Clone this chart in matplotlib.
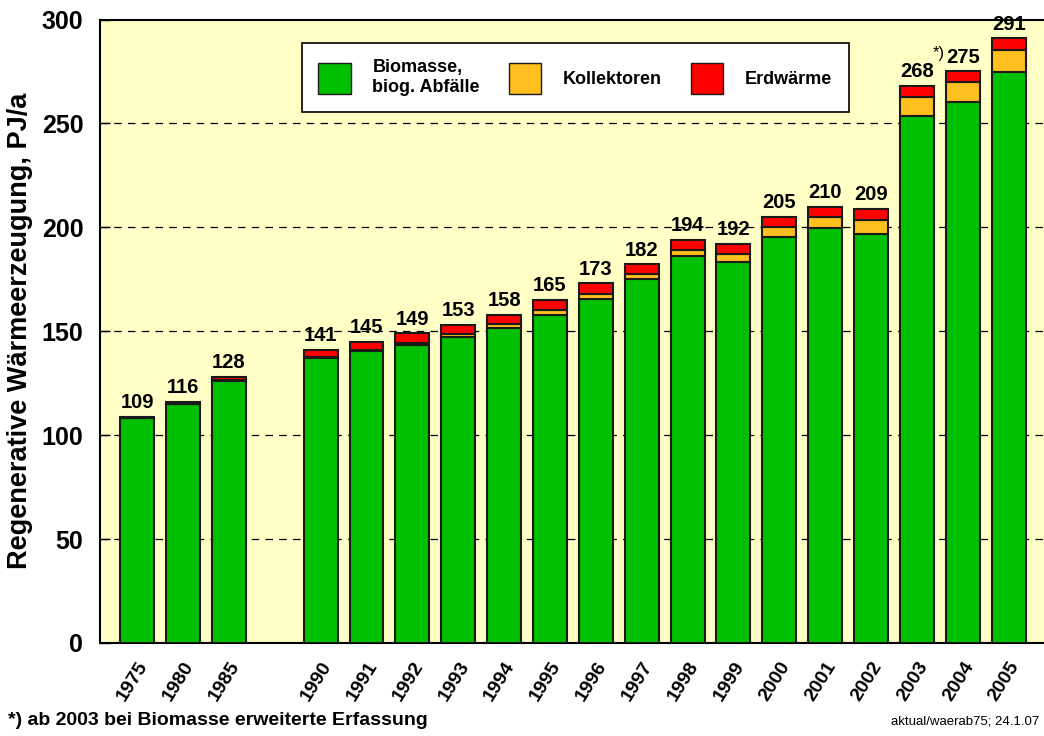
"""Regenerative Waermeerzeugung 1975-2005, gestapelte Saeulen."""
import matplotlib.pyplot as plt
import numpy as np
from matplotlib.patches import Patch

plt.rcParams["font.family"] = ["Liberation Sans", "DejaVu Sans"]

years = ["1975", "1980", "1985", "1990", "1991", "1992", "1993", "1994", "1995",
         "1996", "1997", "1998", "1999", "2000", "2001", "2002", "2003", "2004", "2005"]
slots = [0, 1, 2, 4, 5, 6, 7, 8, 9, 10, 11, 12, 13, 14, 15, 16, 17, 18, 19]
biomasse = [108.3, 115.0, 126.0, 137.0, 140.5, 143.5, 147.0, 151.5, 158.0,
            165.5, 175.0, 186.0, 183.5, 195.5, 199.5, 197.0, 253.5, 260.3, 274.7]
kollektoren = [0.0, 0.2, 0.3, 0.5, 0.7, 1.0, 1.5, 1.8, 2.0,
               2.5, 2.5, 3.3, 3.8, 4.5, 5.5, 6.7, 9.0, 9.4, 10.8]
erdwaerme = [0.5, 0.8, 1.7, 3.5, 3.8, 4.5, 4.5, 4.7, 5.0,
             5.0, 4.7, 4.7, 4.7, 5.0, 5.0, 5.3, 5.5, 5.3, 5.5]
totals = [109, 116, 128, 141, 145, 149, 153, 158, 165,
          173, 182, 194, 192, 205, 210, 209, 268, 275, 291]

GREEN = "#00C000"
ORANGE = "#FFBF1F"
RED = "#FF0000"
BG = "#FFFFC6"

fig = plt.figure(figsize=(10.44, 7.36), dpi=100)
ax = fig.add_axes([0.0958, 0.1264, 0.9042, 0.8471])
ax.set_facecolor(BG)

x = np.array(slots, dtype=float)
b = np.array(biomasse)
k = np.array(kollektoren)
e = np.array(erdwaerme)
kw = dict(width=0.74, edgecolor="#1a1a1a", linewidth=1.5, zorder=3)
ax.bar(x, b, color=GREEN, **kw)
ax.bar(x, k, bottom=b, color=ORANGE, **kw)
ax.bar(x, e, bottom=b + k, color=RED, **kw)

for xi, top, t in zip(x, b + k + e, totals):
    ax.text(xi, top + 2.2, str(t), ha="center", va="bottom",
            fontsize=14.5, fontweight="bold", zorder=4)
ax.text(17.6, 280, "*)", ha="right", va="bottom", fontsize=12, zorder=4)

ax.set_xlim(-0.81, 19.77)
ax.set_ylim(0, 300)
ax.set_yticks(range(0, 301, 50))
ax.tick_params(axis="y", direction="in", length=7, width=1, labelsize=18, pad=12)
for lbl in ax.get_yticklabels():
    lbl.set_fontweight("bold")
ax.set_xticks(x)
ax.set_xticklabels(years, rotation=58, ha="right", rotation_mode="anchor",
                   fontsize=14, fontweight="bold")
ax.tick_params(axis="x", direction="in", length=6, width=1, pad=11)

for yv in range(50, 300, 50):
    ax.axhline(yv, color="black", linestyle=(0, (6, 5)), linewidth=0.9, zorder=1)

ax.spines["right"].set_visible(False)
for s in ("left", "top", "bottom"):
    ax.spines[s].set_linewidth(1.5)

ax.set_ylabel("Regenerative Wärmeerzeugung, PJ/a", fontsize=19.5,
              fontweight="bold", labelpad=6)

handles = [Patch(facecolor=GREEN, edgecolor="#1a1a1a"),
           Patch(facecolor=ORANGE, edgecolor="#1a1a1a"),
           Patch(facecolor=RED, edgecolor="#1a1a1a")]
leg = ax.legend(handles, ["Biomasse,\nbiog. Abfälle", "Kollektoren", "Erdwärme"],
                ncol=3, loc="upper left", bbox_to_anchor=(0.214, 0.962),
                borderaxespad=0, fancybox=False, framealpha=1, edgecolor="black",
                prop={"weight": "bold", "size": 13},
                handlelength=1.8, handleheight=2.3, handletextpad=1.2,
                columnspacing=1.6, borderpad=0.9)
leg.get_frame().set_linewidth(1.2)
leg.set_zorder(5)

fig.text(0.008, 0.01, "*) ab 2003 bei Biomasse erweiterte Erfassung",
         fontsize=14, fontweight="bold", ha="left", va="bottom")
fig.text(0.995, 0.012, "aktual/waerab75; 24.1.07", fontsize=9.5,
         ha="right", va="bottom")

fig.savefig("out.png", dpi=100)
